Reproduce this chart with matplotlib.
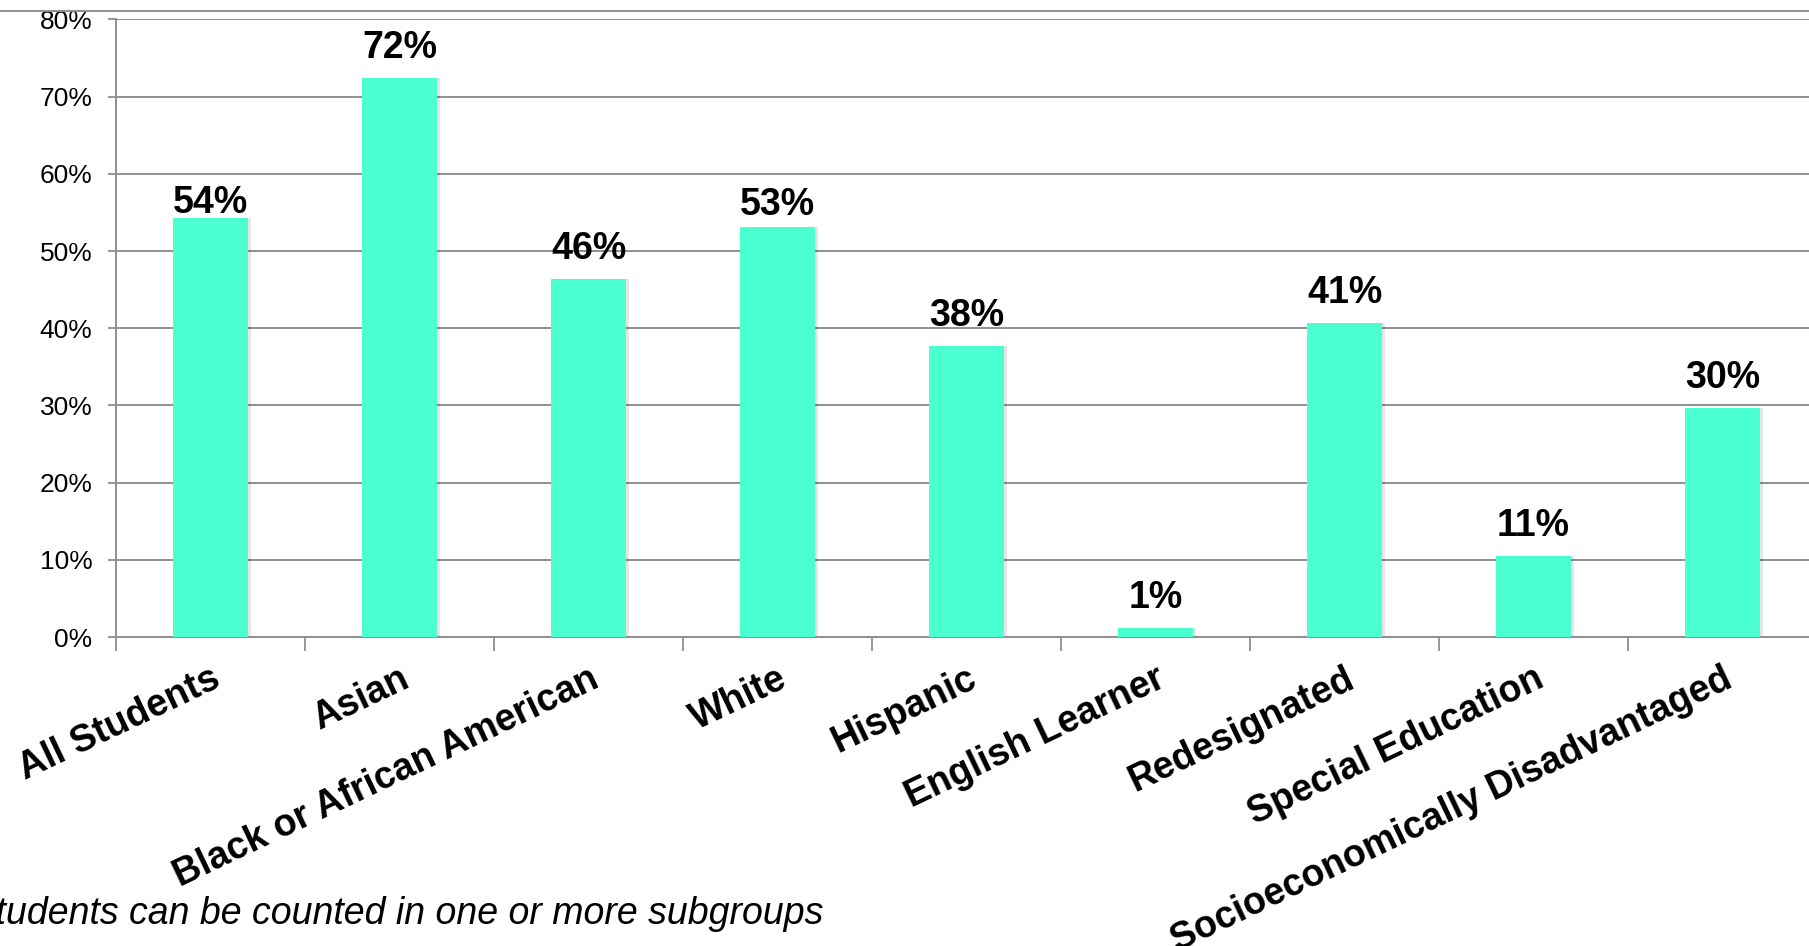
import matplotlib.pyplot as plt
from matplotlib.lines import Line2D
from matplotlib.ticker import FuncFormatter
from matplotlib.transforms import ScaledTranslation

plt.rcParams['font.family'] = ['Liberation Sans', 'DejaVu Sans']

categories = ["All Students", "Asian", "Black or African American", "White",
              "Hispanic", "English Learner", "Redesignated",
              "Special Education", "Socioeconomically Disadvantaged"]
pct = [54.3, 72.4, 46.4, 53.1, 37.7, 1.2, 40.7, 10.5, 29.7]
pct_labels = ["54%", "72%", "46%", "53%", "38%", "1%", "41%", "11%", "30%"]
y_ticks = [0, 10, 20, 30, 40, 50, 60, 70, 80]
footnote = "*Students can be counted in one or more subgroups"

W, H = 1809, 946
bar_color = '#4AFFD0'
grid_color = '#8f8f8f'

fig = plt.figure(figsize=(W / 100, H / 100), dpi=100)
ax = fig.add_axes([116 / W, 309 / H, (1817 - 116) / W, (637 - 19.5) / H])

x = list(range(len(categories)))

# faint shadow then the bars
ax.bar([i + 0.012 for i in x], pct, width=0.4, color='#000000', alpha=0.10,
       zorder=2)
ax.bar(x, pct, width=0.4, color=bar_color, zorder=3)

# labels sit ~20px above the bar, except two that were nudged down
lift = [3.6, 14.4, 14.4, 8.6, 14.4, 14.4, 14.4, 14.4, 14.4]
for i, v in enumerate(pct):
    ax.annotate(pct_labels[i], (i, v), xytext=(0, lift[i]),
                textcoords='offset points', ha='center', va='baseline',
                fontsize=27, fontweight='bold', zorder=4)

ax.set_xlim(-0.5, len(categories) - 0.5)
ax.set_ylim(0, 80)
ax.set_yticks(y_ticks)
ax.yaxis.set_major_formatter(FuncFormatter(lambda v, p: f"{v:.0f}%"))
ax.yaxis.grid(True, color=grid_color, linewidth=1.4, zorder=0)
ax.set_axisbelow(True)

# boundary ticks (major) and centred labels (minor)
ax.set_xticks([i - 0.5 for i in x])
ax.set_xticklabels([])
ax.set_xticks(x, minor=True)
ax.set_xticklabels(categories, minor=True, rotation=25.5, ha='right', va='top',
                   rotation_mode='anchor', fontsize=27, fontweight='bold')
shift = ScaledTranslation(-4 / 100, 0, fig.dpi_scale_trans)
for lbl in ax.get_xticklabels(minor=True):
    lbl.set_transform(lbl.get_transform() + shift)
ax.tick_params(axis='x', which='major', length=10, width=1.3, color=grid_color,
               direction='out')
ax.tick_params(axis='x', which='minor', length=0, pad=17)
ax.tick_params(axis='y', length=6, width=1.3, color=grid_color, pad=11,
               labelsize=19)

for side in ('top', 'right'):
    ax.spines[side].set_visible(False)
for side in ('left', 'bottom'):
    ax.spines[side].set_color(grid_color)
    ax.spines[side].set_linewidth(1.4)

# line across the top of the slide
fig.add_artist(Line2D([0, 1], [1 - 11 / H, 1 - 11 / H], color=grid_color,
                      linewidth=1.4, transform=fig.transFigure))

fig.text(823 / W, 22 / H, footnote, ha='right', va='baseline', fontsize=27,
         style='italic')

fig.savefig('out.png', dpi=100)
